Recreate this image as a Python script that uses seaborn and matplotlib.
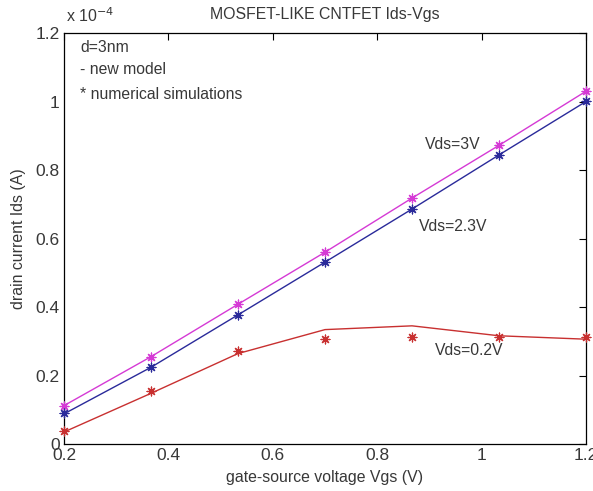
import numpy as np
import pandas as pd
import matplotlib
matplotlib.use("Agg")
import matplotlib.pyplot as plt
import seaborn as sns

# Data (Ids in units of 1e-4 A)
vgs = [0.2, 0.3667, 0.5333, 0.7, 0.8667, 1.0333, 1.2]
model_3v = [0.112, 0.255, 0.408, 0.560, 0.718, 0.872, 1.030]
sim_3v = [0.112, 0.255, 0.408, 0.560, 0.718, 0.873, 1.031]
model_23v = [0.088, 0.224, 0.377, 0.531, 0.686, 0.844, 1.000]
sim_23v = [0.090, 0.225, 0.377, 0.531, 0.686, 0.844, 1.001]
model_02v = [0.035, 0.148, 0.264, 0.334, 0.345, 0.316, 0.306]
sim_02v = [0.038, 0.155, 0.272, 0.307, 0.313, 0.313, 0.312]

series_labels = ["Vds=3V", "Vds=2.3V", "Vds=0.2V"]
xticks = [0.2, 0.4, 0.6, 0.8, 1.0, 1.2]
xtick_labels = ["0.2", "0.4", "0.6", "0.8", "1", "1.2"]
yticks = [0, 0.2, 0.4, 0.6, 0.8, 1.0, 1.2]
ytick_labels = ["0", "0.2", "0.4", "0.6", "0.8", "1", "1.2"]

sns.set_style("white")
plt.rcParams['font.family'] = ['Liberation Sans', 'DejaVu Sans']

text_color = "#383838"
fig = plt.figure(figsize=(5.93, 4.91), dpi=100)
ax = fig.add_axes([64/593, 1-444/491, (586-64)/593, (444-33)/491])

colors = ["#d53ad5", "#2a2a9a", "#c83030"]
star = (8, 2, 0)
for model, sim, c in zip([model_3v, model_23v, model_02v], [sim_3v, sim_23v, sim_02v], colors):
    df_m = pd.DataFrame({"x": vgs, "y": model})
    df_s = pd.DataFrame({"x": vgs, "y": sim})
    sns.lineplot(data=df_m, x="x", y="y", ax=ax, color=c, linewidth=1.0, sort=False, legend=False)
    sns.scatterplot(data=df_s, x="x", y="y", ax=ax, color=c, marker=star, s=40,
                    linewidth=0.9, edgecolor=c, legend=False, zorder=5, clip_on=False)

ax.set_xlim(0.2, 1.2)
ax.set_ylim(0, 1.2)
ax.set_xticks(xticks)
ax.set_xticklabels(xtick_labels)
ax.set_yticks(yticks)
ax.set_yticklabels(ytick_labels)
ax.tick_params(direction="in", length=5, width=0.8, top=True, right=True,
               labelsize=12.5, colors="black", labelcolor=text_color, pad=3)
for sp in ax.spines.values():
    sp.set_visible(True)
    sp.set_color("black")
    sp.set_linewidth(0.9)

ax.set_xlabel("gate-source voltage Vgs (V)", fontsize=11.4, color=text_color, labelpad=5)
ax.set_ylabel("drain current Ids (A)", fontsize=11.4, color=text_color, labelpad=7)
ax.set_title("MOSFET-LIKE CNTFET Ids-Vgs", fontsize=11.4, color=text_color, pad=10)

fig.text(66/593, 1-16/491, r"x 10$^{-4}$", fontsize=11.5, color=text_color, va="center")

ax.text(0.231, 1.159, "d=3nm", fontsize=11.3, color=text_color, va="center")
ax.text(0.231, 1.092, "- new model", fontsize=11.3, color=text_color, va="center")
ax.text(0.231, 1.019, "* numerical simulations", fontsize=11.3, color=text_color, va="center")

ax.text(0.892, 0.873, series_labels[0], fontsize=11.3, color=text_color, va="center")
ax.text(0.880, 0.634, series_labels[1], fontsize=11.3, color=text_color, va="center")
ax.text(0.911, 0.274, series_labels[2], fontsize=11.3, color=text_color, va="center")

fig.savefig("out.png", dpi=100, facecolor="white")
